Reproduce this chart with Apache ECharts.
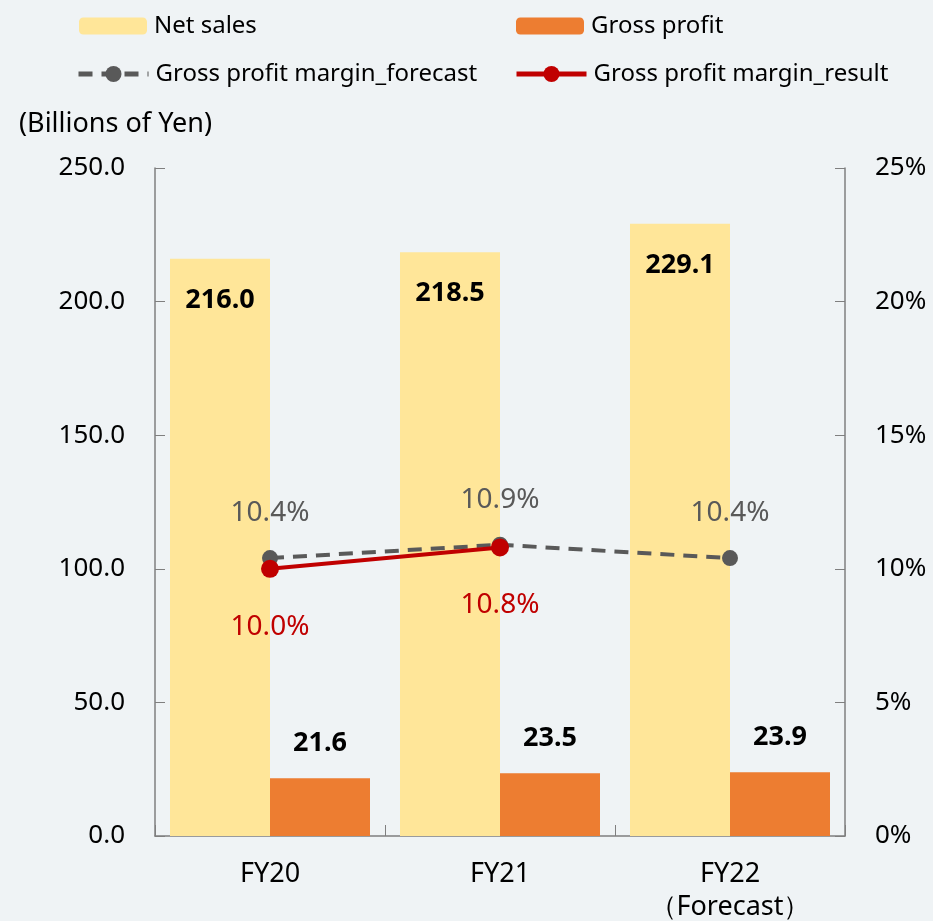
<!DOCTYPE html>
<html>
<head>
<meta charset="utf-8">
<script src="https://cdn.jsdelivr.net/npm/echarts@6/dist/echarts.min.js"></script>
<style>
  html, body { margin: 0; padding: 0; background: #eff3f5; }
  #main { width: 933px; height: 921px; }
</style>
</head>
<body>
<div id="main"></div>
<script>
// data
var categories = ['FY20', 'FY21', 'FY22\n（Forecast）'];
var netSales = [216.0, 218.5, 229.1];
var grossProfit = [21.6, 23.5, 23.9];
var marginForecast = [10.4, 10.9, 10.4];
var marginResult = [10.0, 10.8, '-'];

var fontName = '"Noto Sans", "Open Sans", sans-serif';
var axisColor = '#7f7f7f';

var myChart = echarts.init(document.getElementById('main'));

function legendAt(name, left, top, w, h, lineW) {
	var lg = {
		data: [name],
		left: left,
		top: top,
		itemWidth: w,
		itemHeight: h,
		itemGap: 0,
		textStyle: { fontFamily: fontName, fontSize: 24, color: '#000', padding: [0, 0, 0, 2] }
	};
	if (lineW) {
		lg.lineStyle = { width: lineW };
	}
	return lg;
}

var option = {
	backgroundColor: '#eff3f5',
	animation: false,
	textStyle: { fontFamily: fontName },
	title: {
		text: '(Billions of Yen)',
		left: 14,
		top: 106,
		textStyle: { fontFamily: fontName, fontSize: 27, fontWeight: 'normal', color: '#000' }
	},
	legend: [
		legendAt('Net sales', 74, 9, 68, 17),
		legendAt('Gross profit', 511, 9, 68, 17),
		legendAt('Gross profit margin_forecast', 71, 57, 70, 20, 5),
		legendAt('Gross profit margin_result', 509, 57, 70, 20, 5)
	],
	grid: { left: 155, right: 88, top: 168, bottom: 85, outerBoundsMode: 'none' },
	xAxis: {
		type: 'category',
		data: categories,
		axisLine: { lineStyle: { color: axisColor, width: 1.5 } },
		axisTick: { show: true, inside: true, length: 11, lineStyle: { color: axisColor } },
		axisLabel: { fontFamily: fontName, fontSize: 27, color: '#000', margin: 22, lineHeight: 33 }
	},
	yAxis: [
		{
			type: 'value',
			min: 0,
			max: 250,
			interval: 50,
			splitLine: { show: false },
			axisLine: { show: true, lineStyle: { color: axisColor, width: 1.5 } },
			axisTick: { show: true, inside: true, length: 10, lineStyle: { color: axisColor } },
			axisLabel: {
				fontFamily: fontName, fontSize: 26, color: '#000', margin: 30,
				formatter: function (v) { return v.toFixed(1); }
			}
		},
		{
			type: 'value',
			min: 0,
			max: 25,
			interval: 5,
			splitLine: { show: false },
			axisLine: { show: true, lineStyle: { color: axisColor, width: 1.5 } },
			axisTick: { show: true, inside: true, length: 10, lineStyle: { color: axisColor } },
			axisLabel: {
				fontFamily: fontName, fontSize: 26, color: '#000', margin: 30,
				formatter: '{value}%'
			}
		}
	],
	series: [
		{
			name: 'Net sales',
			type: 'bar',
			data: netSales,
			barWidth: 100,
			barGap: '0%',
			itemStyle: { color: '#ffe699' },
			label: {
				show: true,
				position: 'insideTop',
				distance: 28,
				fontFamily: fontName,
				fontSize: 27,
				fontWeight: 'bold',
				color: '#000',
				formatter: function (p) { return p.value.toFixed(1); }
			}
		},
		{
			name: 'Gross profit',
			type: 'bar',
			data: grossProfit,
			barWidth: 100,
			barGap: '0%',
			itemStyle: { color: '#ed7d31' },
			label: {
				show: true,
				position: 'top',
				distance: 21,
				fontFamily: fontName,
				fontSize: 27,
				fontWeight: 'bold',
				color: '#000',
				formatter: function (p) { return p.value.toFixed(1); }
			}
		},
		{
			name: 'Gross profit margin_forecast',
			type: 'line',
			yAxisIndex: 1,
			data: marginForecast,
			symbol: 'circle',
			symbolSize: 16,
			itemStyle: { color: '#595959' },
			lineStyle: { color: '#595959', width: 4, type: [14, 9] },
			label: {
				show: true,
				position: 'top',
				distance: 23,
				fontFamily: fontName,
				fontSize: 28,
				color: '#595959',
				formatter: function (p) { return p.value.toFixed(1) + '%'; }
			},
			z: 3
		},
		{
			name: 'Gross profit margin_result',
			type: 'line',
			yAxisIndex: 1,
			data: marginResult,
			symbol: 'circle',
			symbolSize: 18,
			itemStyle: { color: '#c00000' },
			lineStyle: { color: '#c00000', width: 4 },
			label: {
				show: true,
				position: 'bottom',
				distance: 35,
				fontFamily: fontName,
				fontSize: 28,
				color: '#c00000',
				formatter: function (p) { return p.value.toFixed(1) + '%'; }
			},
			z: 4
		}
	]
};

myChart.setOption(option);
</script>
</body>
</html>
